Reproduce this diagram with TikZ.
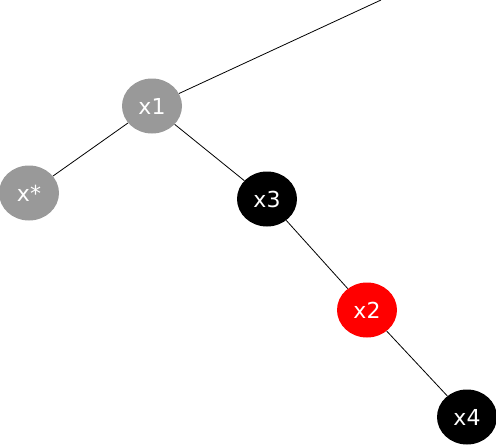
\documentclass[tikz,border=0pt]{standalone}
\usepackage{fontspec}
\setmainfont{DejaVu Sans}
\usetikzlibrary{shapes.geometric}
\definecolor{nodegray}{RGB}{153,153,153}
\begin{document}
\begin{tikzpicture}[x=1pt,y=-1pt,
  tn/.style={ellipse,minimum width=60pt,minimum height=55pt,inner sep=0pt,text=white,font=\fontsize{22}{26}\selectfont},
  edge/.style={draw=black,line width=0.8pt}]
\useasboundingbox (0,0) rectangle (496,445);
\coordinate (top) at (381,0);
\node[tn,fill=nodegray] (x1) at (152,106) {x1};
\node[tn,fill=nodegray] (xs) at (29,193) {x*};
\node[tn,fill=black] (x3) at (267,199) {x3};
\node[tn,fill=red] (x2) at (367,310) {x2};
\node[tn,fill=black] (x4) at (467,417) {x4};
\draw[edge] (x1) -- (top);
\draw[edge] (x1) -- (xs);
\draw[edge] (x1) -- (x3);
\draw[edge] (x3) -- (x2);
\draw[edge] (x2) -- (x4);
\end{tikzpicture}
\end{document}
